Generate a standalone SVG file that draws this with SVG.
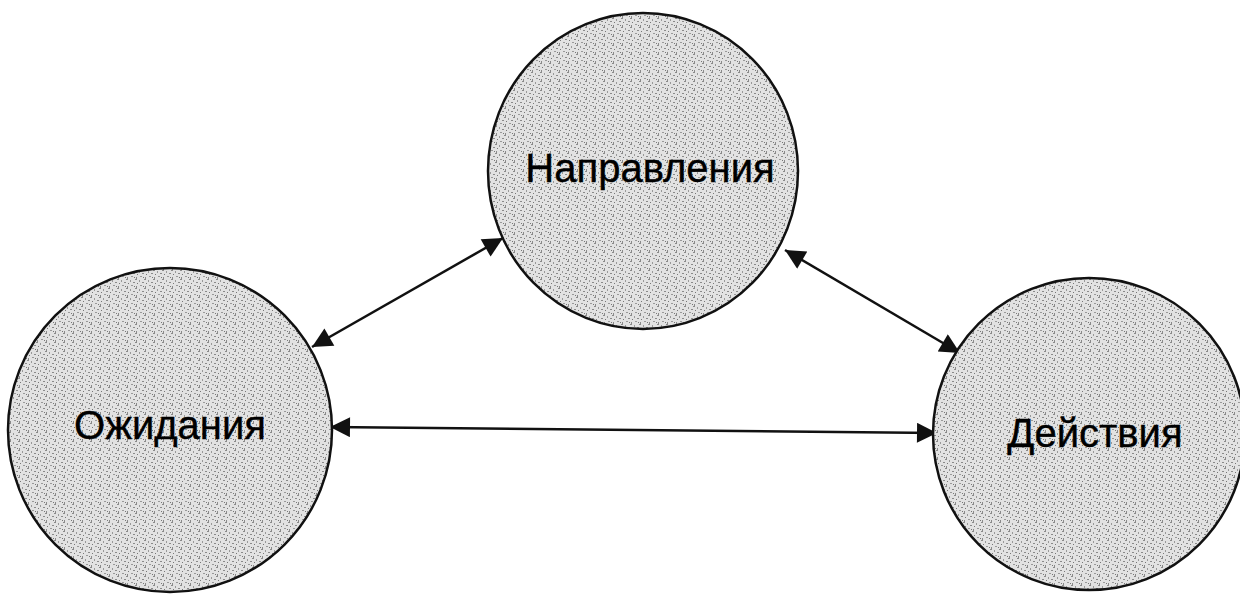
<svg xmlns="http://www.w3.org/2000/svg" width="1240" height="595" viewBox="0 0 1240 595">
<style>
.node{stroke:#111;stroke-width:2.5;fill:url(#stip)}
.lbl{font-family:"Liberation Sans",Arial,sans-serif;font-size:40px;fill:#000;text-anchor:middle;stroke:#000;stroke-width:0.4}
.conn{stroke:#111;stroke-width:2.5;fill:none;marker-start:url(#ah);marker-end:url(#ah)}
</style>
<defs>
<pattern id="stip" width="9" height="9" patternUnits="userSpaceOnUse">
<rect width="9" height="9" fill="#e2e2e2"/>
<rect x="0" y="0" width="2" height="1" fill="#8a8a8a"/>
<rect x="4" y="1" width="1" height="2" fill="#999"/>
<rect x="7" y="3" width="2" height="1" fill="#8a8a8a"/>
<rect x="2" y="4" width="1" height="1" fill="#777"/>
<rect x="5" y="6" width="2" height="1" fill="#999"/>
<rect x="1" y="7" width="1" height="2" fill="#8a8a8a"/>
<rect x="8" y="7" width="1" height="1" fill="#777"/>
</pattern>
<marker id="ah" viewBox="0 0 10 10" refX="10" refY="5" markerWidth="10" markerHeight="8" markerUnits="strokeWidth" orient="auto-start-reverse">
<path d="M0,0 L10,5 L0,10 z" fill="#111"/>
</marker>
</defs>
<g id="connectors">
<line class="conn" x1="312" y1="347" x2="503" y2="238"/>
<line class="conn" x1="785" y1="250" x2="960" y2="353"/>
<line class="conn" x1="330" y1="427" x2="937" y2="433"/>
</g>
<g id="node-napravleniya">
<ellipse class="node" cx="643" cy="171" rx="155" ry="158"/>
<text class="lbl" x="650" y="182">Направления</text>
</g>
<g id="node-ozhidaniya">
<circle class="node" cx="170" cy="430" r="162"/>
<text class="lbl" x="170" y="439">Ожидания</text>
</g>
<g id="node-deystviya">
<circle class="node" cx="1089" cy="434" r="156"/>
<text class="lbl" x="1095" y="447">Действия</text>
</g>
</svg>
